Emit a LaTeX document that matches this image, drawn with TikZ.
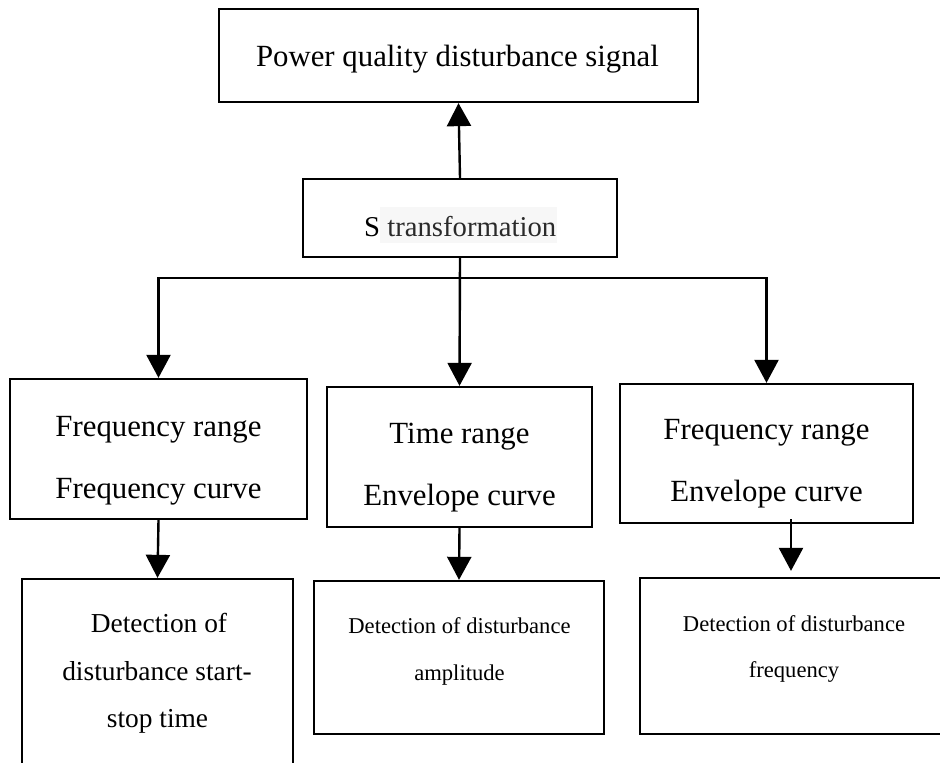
\documentclass[tikz,border=0pt]{standalone}
\usepackage{fontspec}
\setmainfont{Liberation Serif}
\usetikzlibrary{arrows.meta,calc}
\tikzset{
  box/.style={draw, line width=2.3pt, rectangle, inner sep=0pt},
  arr/.style={line width=2.4pt, -{Triangle[length=23pt,width=24pt]}},
  ln/.style={line width=2.4pt},
  big/.style={anchor=base, inner sep=0pt, font=\fontsize{30.8}{36}\selectfont},
  mid/.style={anchor=base, inner sep=0pt, font=\fontsize{27.4}{32}\selectfont},
  small/.style={anchor=base, inner sep=0pt, font=\fontsize{22.6}{27}\selectfont}
}
\definecolor{hlbg}{HTML}{F7F7F7}
\definecolor{hltx}{HTML}{2A2A2A}
\begin{document}
\begin{tikzpicture}[x=1pt,y=-1pt]
\useasboundingbox (0,0) rectangle (940,763);
\clip (0,0) rectangle (940,763);
% boxes
\node[box, minimum width=479pt, minimum height=93pt] (top) at (458.5,55.5) {};
\node[box, minimum width=314pt, minimum height=78pt] (st) at (460,218) {};
\node[box, minimum width=297pt, minimum height=140pt] (l1) at (158.5,449) {};
\node[box, minimum width=265pt, minimum height=140pt] (m1) at (459.5,457) {};
\node[box, minimum width=293pt, minimum height=139pt] (r1) at (766.5,453.5) {};
\node[box, minimum width=271pt, minimum height=201pt] (l2) at (157.5,679.5) {};
\node[box, minimum width=290pt, minimum height=153pt] (m2) at (459,657.5) {};
\node[box, minimum width=310pt, minimum height=156pt] (r2) at (795,656) {};
% texts
\node[big] (t0) at (457.5,66) {Power quality disturbance signal};
\fill[hlbg] (380,207) rectangle (557,243);
\node[anchor=base west, inner sep=0pt, font=\fontsize{28.7}{34}\selectfont] (t1) at (364,236) {S \textcolor{hltx}{transformation}};
\node[big] (l1a) at (158.5,436) {Frequency range};
\node[big] (l1b) at (158.5,498) {Frequency curve};
\node[big] (m1a) at (459.5,443) {Time range};
\node[big] (m1b) at (459.5,505) {Envelope curve};
\node[big] (r1a) at (766.5,439) {Frequency range};
\node[big] (r1b) at (766.5,501) {Envelope curve};
\node[mid] (l2a) at (159,632) {Detection of};
\node[mid] (l2b) at (157,680) {disturbance start-};
\node[mid] (l2c) at (157.5,727) {stop time};
\node[small] (m2a) at (459.5,633) {Detection of disturbance};
\node[small] (m2b) at (459.5,680) {amplitude};
\node[small] (r2a) at (794,631) {Detection of disturbance};
\node[small] (r2b) at (794,677) {frequency};
% connectors
\draw[arr] (st.north) -- (top.south);
\coordinate (jn) at ($(st.south)+(0,20)$);
\draw[ln] (st.south) -- (jn);
\draw[arr] (jn) -| (l1.north);
\draw[arr] (jn) -| (r1.north);
\draw[arr] (st.south) -- (m1.north);
\draw[arr] (l1.south) -- (l2.north);
\draw[arr] (m1.south) -- (m2.north);
\draw[arr] ([xshift=24.5pt,yshift=5pt]r1.south) -- ([xshift=-4pt,yshift=6pt]r2.north);
\end{tikzpicture}
\end{document}
